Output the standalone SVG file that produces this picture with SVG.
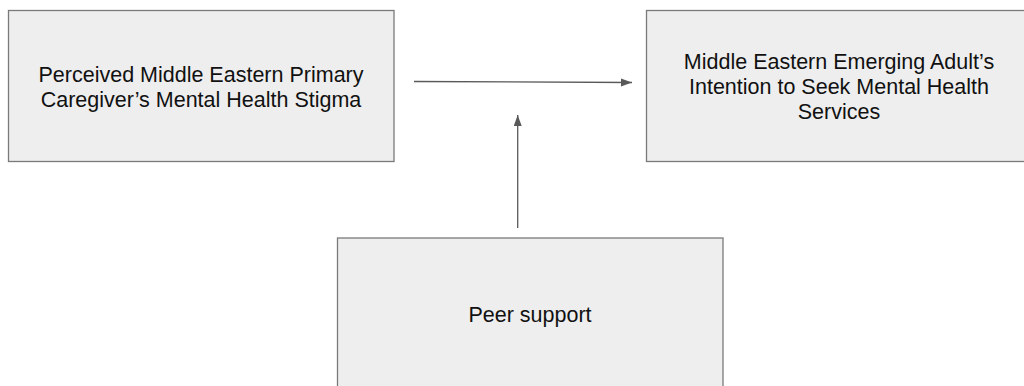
<svg xmlns="http://www.w3.org/2000/svg" width="1024" height="386" viewBox="0 0 1024 386">
<style>
.box{fill:#eeeeee;stroke:#7a7a7a;stroke-width:1.3}
.t{font-family:"Liberation Sans",Arial,sans-serif;font-size:21.5px;fill:#111;text-anchor:middle}
.c{stroke:#595959;stroke-width:1.3;fill:none}
</style>
<defs>
<marker id="ah" markerWidth="12" markerHeight="10" refX="11" refY="4" orient="auto" markerUnits="userSpaceOnUse">
<path d="M0,0 L11,4 L0,8 Z" fill="#595959"/>
</marker>
</defs>
<rect width="1024" height="386" fill="#ffffff"/>
<g id="node-stigma">
<rect class="box" x="8.5" y="10.5" width="385.5" height="151"/>
<text class="t" x="201" y="81.7">Perceived Middle Eastern Primary</text>
<text class="t" x="201" y="106.7">Caregiver’s Mental Health Stigma</text>
</g>
<g id="node-intention">
<rect class="box" x="646.5" y="10.5" width="386" height="151"/>
<text class="t" x="839" y="69">Middle Eastern Emerging Adult’s</text>
<text class="t" x="839" y="94">Intention to Seek Mental Health</text>
<text class="t" x="839" y="119">Services</text>
</g>
<g id="node-peer">
<rect class="box" x="337.5" y="238" width="385.5" height="152"/>
<text class="t" x="530" y="321.7">Peer support</text>
</g>
<g id="connectors">
<line class="c" x1="414" y1="81.5" x2="632" y2="82.5" marker-end="url(#ah)"/>
<line class="c" x1="517.7" y1="228" x2="517.7" y2="115" marker-end="url(#ah)"/>
</g>
</svg>
